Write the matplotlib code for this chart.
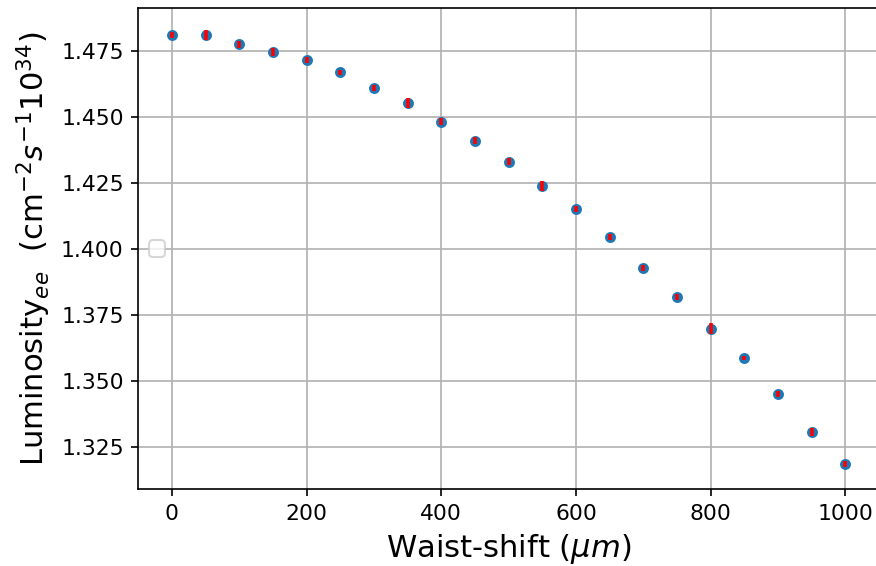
import matplotlib
matplotlib.use("Agg")
import matplotlib.pyplot as plt

# Waist-shift scan: luminosity vs. shift of the beam waist
waist_shift = [0, 50, 100, 150, 200, 250, 300, 350, 400, 450, 500,
               550, 600, 650, 700, 750, 800, 850, 900, 950, 1000]
luminosity = [1.4808, 1.4808, 1.4773, 1.4743, 1.4715, 1.4668, 1.4608,
              1.4552, 1.4481, 1.4409, 1.4329, 1.4238, 1.4152, 1.4045,
              1.3929, 1.3818, 1.3698, 1.3587, 1.3451, 1.3309, 1.3187]
lumi_err = [0.0011, 0.0020, 0.0013, 0.0015, 0.0011, 0.0010, 0.0010,
            0.0020, 0.0014, 0.0013, 0.0013, 0.0019, 0.0011, 0.0011,
            0.0011, 0.0011, 0.0020, 0.0009, 0.0011, 0.0015, 0.0011]

fig = plt.figure(figsize=(876 / 150, 566 / 150), dpi=150)
ax = fig.add_axes([138.3 / 876, (566 - 489.3) / 566,
                   (879 - 138.3) / 876, (489.3 - 8.2) / 566])

ax.scatter(waist_shift, luminosity, s=18, color="#1f77b4", zorder=3)
ax.errorbar(waist_shift, luminosity, yerr=lumi_err, fmt="none",
            ecolor="red", elinewidth=1.7, zorder=4)

ax.set_xlim(-50, 1050)
ax.set_ylim(1.3091, 1.4910)
ax.set_xticks([0, 200, 400, 600, 800, 1000])
ax.set_yticks([1.325, 1.350, 1.375, 1.400, 1.425, 1.450, 1.475])
ax.tick_params(labelsize=10.5)
ax.grid(True, color="#b0b0b0", linewidth=0.8)
ax.set_axisbelow(True)

ax.set_xlabel(r"Waist-shift ($\mu m$)", fontsize=14.7)
ax.set_ylabel(r"Luminosity$_{ee}$  (cm$^{-2}s^{-1}10^{34}$)", fontsize=14.7)

ax.legend(handles=[], loc="center left")

fig.savefig("out.png", dpi=150)
